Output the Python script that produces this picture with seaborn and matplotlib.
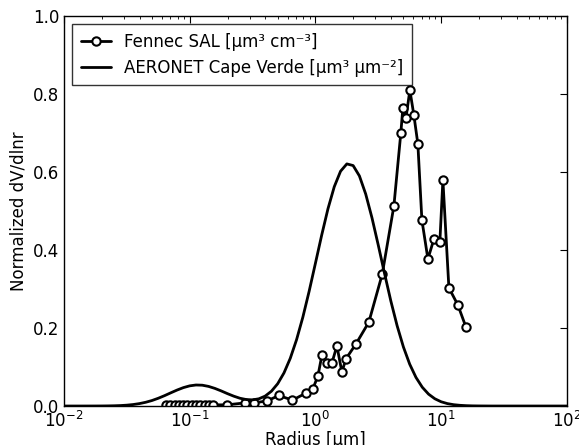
import numpy as np
import seaborn as sns
import matplotlib
matplotlib.use("Agg")
import matplotlib.pyplot as plt
from matplotlib.ticker import LogLocator, MultipleLocator


# Fennec SAL size distribution (radius in um, normalized dV/dlnr)
fennec_radius = [0.0647, 0.0700, 0.0758, 0.0820, 0.0887, 0.0960, 0.1038, 0.1123,
                 0.1215, 0.1315, 0.1423, 0.1530, 0.198, 0.275, 0.324, 0.411,
                 0.513, 0.656, 0.840, 0.954, 1.047, 1.127, 1.245, 1.352,
                 1.482, 1.625, 1.749, 2.10, 2.66, 3.40, 4.21, 4.78,
                 4.96, 5.25, 5.64, 6.07, 6.53, 7.03, 7.85, 8.76,
                 9.77, 10.33, 11.53, 13.59, 15.73]
fennec_dv = [0.003, 0.003, 0.003, 0.003, 0.003, 0.003, 0.003, 0.003,
             0.003, 0.003, 0.003, 0.003, 0.003, 0.008, 0.008, 0.013,
             0.027, 0.015, 0.033, 0.044, 0.077, 0.131, 0.110, 0.110,
             0.154, 0.087, 0.121, 0.159, 0.215, 0.338, 0.513, 0.700,
             0.764, 0.738, 0.810, 0.746, 0.672, 0.477, 0.377, 0.428,
             0.421, 0.579, 0.303, 0.259, 0.203]

# AERONET Cape Verde, read every 0.05 decade from 10^-2 to 10^2 um
aeronet_radius = 10 ** np.linspace(-2, 2, 81)
aeronet_dv = [0.0, 0.0, 0.0, 0.0, 0.00003, 0.00007, 0.00015, 0.00032,
              0.00064, 0.0012, 0.0022, 0.0038, 0.0062, 0.0096, 0.0141, 0.0199,
              0.0266, 0.0339, 0.0410, 0.0472, 0.0517, 0.0539, 0.0534, 0.0503,
              0.0452, 0.0388, 0.0318, 0.0253, 0.0199, 0.0166, 0.0158, 0.0185,
              0.0254, 0.0379, 0.0572, 0.0849, 0.1223, 0.1700, 0.2277, 0.2941,
              0.3659, 0.4383, 0.5059, 0.5623, 0.6020, 0.6208, 0.6166, 0.5900,
              0.5436, 0.4825, 0.4125, 0.3397, 0.2693, 0.2058, 0.1514, 0.1073,
              0.0733, 0.0482, 0.0305, 0.0186, 0.0109, 0.0062, 0.0034, 0.0018,
              0.0009, 0.0004, 0.0002, 0.0001, 0.0, 0.0, 0.0, 0.0,
              0.0, 0.0, 0.0, 0.0, 0.0, 0.0, 0.0, 0.0, 0.0]

sns.set_style("white")
plt.rcParams["font.family"] = ["DejaVu Sans"]
plt.rcParams["font.size"] = 12
plt.rcParams["text.color"] = "black"
plt.rcParams["axes.labelcolor"] = "black"
plt.rcParams["xtick.color"] = "black"
plt.rcParams["ytick.color"] = "black"

fig = plt.figure(figsize=(5.79, 4.45), dpi=100)
ax = fig.add_axes([0.1105, 0.0876, 0.8685, 0.8764])

sns.lineplot(x=fennec_radius, y=fennec_dv, ax=ax, color="black", lw=2,
             marker="o", markersize=6, markerfacecolor="white",
             markeredgecolor="black", markeredgewidth=1.5,
             label="Fennec SAL [µm³ cm⁻³]")
sns.lineplot(x=aeronet_radius, y=aeronet_dv, ax=ax, color="black", lw=2,
             label="AERONET Cape Verde [µm³ µm⁻²]")

ax.set_xscale("log")
ax.set_xlim(1e-2, 1e2)
ax.set_ylim(0, 1.0)
ax.yaxis.set_major_locator(MultipleLocator(0.2))
ax.xaxis.set_minor_locator(LogLocator(base=10, subs=np.arange(2, 10), numticks=20))
ax.set_xlabel("Radius [µm]", fontsize=12, labelpad=0)
ax.set_ylabel("Normalized dV/dlnr", fontsize=12)

ax.tick_params(which="both", direction="in", top=True, right=True, labelsize=12)
ax.tick_params(which="major", length=5, width=0.8)
ax.tick_params(which="minor", length=2.5, width=0.6)
for s in ax.spines.values():
    s.set_color("black")
    s.set_linewidth(1)

leg = ax.legend(loc="upper left", fontsize=12, frameon=True, fancybox=False,
                handlelength=1.8, borderpad=0.5, labelspacing=0.5)
leg.get_frame().set_edgecolor("black")
leg.get_frame().set_linewidth(1)

fig.savefig("out.png", dpi=100)
